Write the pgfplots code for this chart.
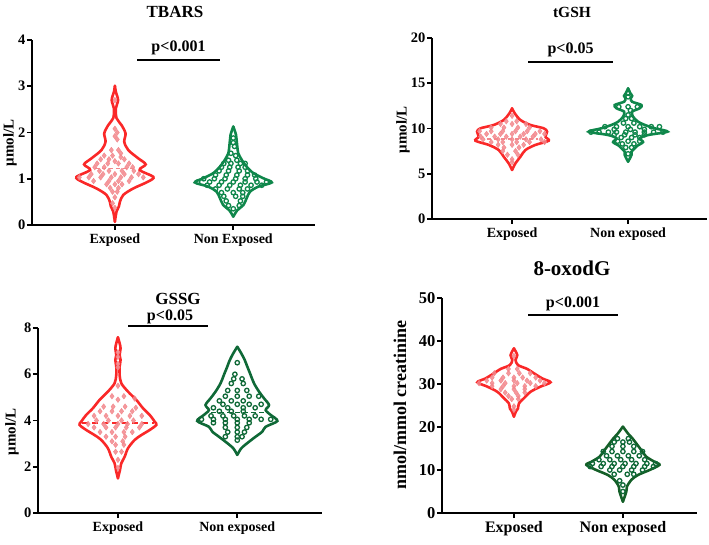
\documentclass[border=0pt]{standalone}
\usepackage{fontspec}
\setmainfont{Liberation Serif}
\usepackage{pgfplots}
\pgfplotsset{compat=1.18}
\usepackage{pgfplotstable}

\definecolor{vred}{RGB}{250,40,40}
\definecolor{vpink}{RGB}{242,135,140}
\definecolor{gA}{RGB}{15,135,75}
\definecolor{gB}{RGB}{15,105,55}
\definecolor{gC}{RGB}{20,95,40}

\pgfplotsset{
  vio/.style={
    scale only axis, clip=false,
    axis x line*=bottom, axis y line*=left,
    axis line style={line width=1.8pt},
    ymin=0,
    xtick={0,1},
    tick align=outside,
    major tick length=5pt,
    tick style={black, line width=1.8pt},
    /pgf/number format/assume math mode=true,
    yticklabel style={font=\bfseries\fontsize{14.5}{14.5}\selectfont, inner sep=1.5pt},
    xticklabel style={font=\bfseries\fontsize{14}{14}\selectfont},
  },
  vline/.style={smooth, line width=2.6pt, no marks, line cap=round},
  exppts/.style={only marks, mark=diamond*, mark size=2.8pt, mark options={fill=vpink, draw=vpink, fill opacity=0.85}},
  nonpts/.style={only marks, mark=o, mark size=2.2pt, mark options={line width=1.3pt}},
}

% violin outlines: value, half width
\pgfplotstableread{
y hw
3.01 0
2.88 0.008
2.70 0.027
2.52 0.008
2.31 0.014
2.16 0.056
1.98 0.09
1.80 0.079
1.62 0.113
1.44 0.198
1.31 0.26
1.19 0.209
1.04 0.325
0.94 0.282
0.79 0.155
0.65 0.071
0.50 0.042
0.40 0.034
0.29 0.014
0.07 0
}\tbE
\pgfplotstableread{
y hw
2.13 0
1.95 0.023
1.84 0.028
1.69 0.034
1.55 0.042
1.41 0.071
1.26 0.113
1.12 0.17
1.01 0.254
0.92 0.325
0.83 0.212
0.72 0.141
0.58 0.113
0.43 0.085
0.32 0.034
0.18 0
}\tbN
\pgfplotstableread{
y hw
12.23 0
11.68 0.023
10.94 0.072
10.39 0.158
10.02 0.273
9.65 0.302
9.09 0.287
8.65 0.316
8.18 0.2
7.62 0.115
6.88 0.072
6.15 0.029
5.41 0
}\gsE
\pgfplotstableread{
y hw
14.44 0
13.89 0.02
13.6 0.035
13.33 0.023
12.96 0.034
12.6 0.115
12.23 0.1
11.86 0.034
11.3 0.043
10.75 0.086
10.39 0.144
10.02 0.23
9.65 0.34
9.28 0.172
8.92 0.1
8.5 0.129
8.1 0.08
7.81 0.057
7.44 0.029
7.07 0.029
6.33 0
}\gsN
\pgfplotstableread{
y hw
7.6 0
7.34 0.014
7.12 0.022
6.83 0.014
6.62 0.022
6.33 0.014
5.97 0.014
5.61 0.028
5.25 0.084
4.89 0.154
4.53 0.21
4.24 0.266
3.95 0.308
3.81 0.322
3.59 0.266
3.37 0.196
3.16 0.14
2.80 0.084
2.43 0.056
2.15 0.028
1.86 0.017
1.50 0
}\ssE
\pgfplotstableread{
y hw
7.19 0
6.9 0.034
6.62 0.062
6.33 0.084
5.97 0.112
5.61 0.14
5.25 0.182
4.96 0.224
4.67 0.266
4.45 0.238
4.24 0.28
3.98 0.336
3.73 0.238
3.52 0.21
3.30 0.154
3.08 0.098
2.80 0.034
2.51 0
}\ssN
\pgfplotstableread{
y hw
38.3 0
36.7 0.031
35.6 0.015
34.4 0.037
33.5 0.122
32.5 0.183
31.3 0.26
30.4 0.336
29.4 0.245
28.2 0.153
26.7 0.092
25.5 0.046
24.3 0.037
23.6 0.018
22.4 0
}\oxE
\pgfplotstableread{
y hw
20.1 0
18.5 0.046
17.4 0.086
16.2 0.122
14.65 0.168
13.1 0.214
11.9 0.29
11.2 0.336
10.0 0.245
8.84 0.138
7.67 0.076
6.12 0.037
4.95 0.031
2.63 0
}\oxN

\begin{document}
\begin{tikzpicture}
\useasboundingbox (0,0) rectangle (709pt,544pt);

% ---------------- TBARS ----------------
\begin{axis}[vio, at={(32pt,319pt)}, anchor=south west, width=283pt, height=185pt,
  xmin=-0.70, xmax=1.69, ymax=4, ytick={0,1,2,3,4}, yticklabels={0,1,2,3,4},
  xticklabels={Exposed, Non Exposed}]
\addplot[exppts] coordinates {
(0,2.7)
(0,2.08) (0.02,2.0) (0,1.92) (0.02,1.85)
(-0.03,1.62) (0.03,1.62) (0.05,1.55)
(-0.09,1.5) (-0.02,1.5) (0.05,1.47)
(-0.12,1.42) (-0.05,1.42) (0.0,1.38) (0.08,1.42)
(-0.15,1.33) (-0.06,1.33) (0.03,1.33) (0.12,1.33)
(-0.17,1.25) (-0.09,1.25) (0.1,1.25) (0.15,1.25)
(-0.13,1.17) (-0.05,1.17) (0.06,1.17) (0.16,1.17)
(-0.2,1.1) (-0.1,1.1) (0.0,1.1) (0.08,1.1) (0.2,1.1)
(-0.3,1.03) (-0.22,1.03) (-0.12,1.03) (-0.03,1.03) (0.05,1.03) (0.14,1.03) (0.24,1.03)
(-0.18,0.95) (-0.05,0.95) (0.03,0.95) (0.12,0.95)
(-0.07,0.88) (0.0,0.88) (0.06,0.88)
(-0.04,0.8) (0.03,0.8)
(-0.02,0.72) (0.02,0.72)
(0.0,0.6) (-0.02,0.47) (0.0,0.37)
};
\addplot[vpink, line width=1.5pt, dash pattern=on 4pt off 3pt] coordinates {(-0.17,1.22) (0.17,1.22)};
\addplot[vline, draw=vred] table[x expr=\thisrow{hw}, y=y] {\tbE};
\addplot[vline, draw=vred] table[x expr=-\thisrow{hw}, y=y] {\tbE};
\addplot[nonpts, gA] coordinates {
(1,1.88) (1,1.78) (1.01,1.7)
(0.98,1.55) (1.02,1.5)
(0.96,1.4) (1.03,1.4)
(0.92,1.33) (0.98,1.33) (1.06,1.33) (1.1,1.33)
(0.9,1.25) (0.97,1.25) (1.04,1.25) (1.1,1.25)
(0.88,1.17) (0.96,1.17) (1.05,1.17) (1.12,1.17)
(0.85,1.08) (0.94,1.08) (1.03,1.08) (1.12,1.08) (1.18,1.08)
(0.75,1.0) (0.84,1.0) (0.93,1.0) (1.02,1.0) (1.1,1.0) (1.19,1.0)
(0.7,0.93) (0.8,0.93) (0.9,0.93) (1.0,0.93) (1.1,0.93) (1.2,0.93) (1.28,0.93)
(0.78,0.86) (0.88,0.86) (0.97,0.86) (1.06,0.86) (1.15,0.86) (1.24,0.86)
(0.85,0.78) (0.95,0.78) (1.05,0.78) (1.12,0.78)
(0.9,0.7) (1.0,0.7) (1.08,0.7)
(0.92,0.62) (1.02,0.62) (1.08,0.62)
(0.94,0.52) (1.06,0.52)
(0.96,0.42) (1.05,0.42)
(1.0,0.35)
};
\addplot[vline, draw=gA] table[x expr=1+\thisrow{hw}, y=y] {\tbN};
\addplot[vline, draw=gA] table[x expr=1-\thisrow{hw}, y=y] {\tbN};
\end{axis}

% ---------------- tGSH ----------------
\begin{axis}[vio, at={(432pt,325pt)}, anchor=south west, width=275pt, height=181pt,
  xmin=-0.69, xmax=1.68, ymax=20, ytick={0,5,10,15,20}, yticklabels={0,5,10,15,20},
  xticklabels={Exposed, Non exposed}]
\addplot[exppts] coordinates {
(0,11.4)
(-0.05,10.8) (0.04,10.8)
(-0.1,10.5) (0,10.5) (0.12,10.5)
(-0.18,10.1) (-0.07,10.1) (0.05,10.1) (0.15,10.1)
(-0.28,9.7) (-0.18,9.7) (-0.08,9.7) (0.03,9.7) (0.13,9.7) (0.24,9.7)
(-0.22,9.4) (-0.1,9.4) (0,9.4) (0.1,9.4) (0.2,9.4) (0.28,9.4)
(-0.27,9.1) (-0.15,9.1) (-0.05,9.1) (0.07,9.1) (0.18,9.1)
(-0.25,8.8) (-0.12,8.8) (0,8.8) (0.12,8.8) (0.25,8.8)
(-0.18,8.5) (-0.08,8.5) (0.04,8.5) (0.15,8.5) (0.28,8.5)
(-0.12,8.2) (0,8.2) (0.1,8.2)
(-0.07,7.9) (0.06,7.9)
(-0.08,7.5) (0.03,7.5)
(-0.04,7.1) (0.05,7.1)
(0,6.6) (0,6.3)
};
\addplot[vpink, line width=1.5pt, dash pattern=on 4pt off 3pt] coordinates {(-0.22,8.85) (0.22,8.85)};
\addplot[vline, draw=vred] table[x expr=\thisrow{hw}, y=y] {\gsE};
\addplot[vline, draw=vred] table[x expr=-\thisrow{hw}, y=y] {\gsE};
\addplot[nonpts, gA] coordinates {
(1,13.9) (1,13.5)
(0.92,12.4) (1,12.4) (1.08,12.4)
(1.02,12.0)
(1,11.5) (0.98,11.1) (1.03,11.1)
(0.96,10.6) (1.05,10.6)
(0.8,10.2) (0.9,10.2) (1,10.2) (1.1,10.2) (1.2,10.2) (1.27,10.2)
(0.88,9.9) (1.02,9.9) (1.14,9.9)
(0.68,9.6) (0.75,9.6) (0.83,9.6) (0.9,9.6) (0.98,9.6) (1.06,9.6) (1.14,9.6) (1.22,9.6) (1.3,9.6)
(0.88,9.3) (0.97,9.3) (1.06,9.3) (1.14,9.3)
(0.94,9.0) (1.03,9.0) (1.1,9.0)
(0.91,8.6) (1,8.6) (1.1,8.6)
(0.95,8.3) (1.05,8.3)
(0.98,7.9) (1.03,7.9)
(1,7.2)
};
\addplot[vline, draw=gA] table[x expr=1+\thisrow{hw}, y=y] {\gsN};
\addplot[vline, draw=gA] table[x expr=1-\thisrow{hw}, y=y] {\gsN};
\end{axis}

% ---------------- GSSG ----------------
\begin{axis}[vio, at={(38pt,31pt)}, anchor=south west, width=284pt, height=185pt,
  xmin=-0.67, xmax=1.71, ymax=8, ytick={0,2,4,6,8}, yticklabels={0,2,4,6,8},
  xticklabels={Exposed, Non exposed}]
\addplot[exppts] coordinates {
(0,6.95) (0,6.75) (0,6.45) (0,6.3)
(0,5.5)
(-0.05,5.05) (0.05,5.05)
(0,4.9) (0.14,4.95)
(-0.12,4.6) (-0.04,4.6) (0.06,4.6) (0.15,4.55)
(-0.15,4.4) (-0.05,4.4) (0.03,4.4) (0.12,4.4)
(-0.2,4.2) (-0.1,4.2) (0,4.2) (0.1,4.2) (0.2,4.2)
(-0.18,4.0) (-0.08,4.0) (0.03,4.0) (0.13,4.0)
(-0.25,3.85) (-0.12,3.85) (0,3.85) (0.08,3.85) (0.2,3.85)
(-0.2,3.7) (-0.1,3.7) (-0.02,3.7) (0.07,3.7) (0.18,3.7)
(-0.15,3.5) (-0.05,3.5) (0.05,3.5) (0.12,3.5)
(-0.1,3.3) (-0.02,3.3) (0.06,3.3)
(-0.05,3.1) (0.04,3.1)
(-0.02,2.95) (0.05,2.95)
(-0.02,2.65) (0.03,2.65)
(0,2.3) (0,1.95)
};
\addplot[vred, line width=2.2pt, dash pattern=on 6pt off 4pt] coordinates {(-0.3,3.9) (0.3,3.9)};
\addplot[vline, draw=vred] table[x expr=\thisrow{hw}, y=y] {\ssE};
\addplot[vline, draw=vred] table[x expr=-\thisrow{hw}, y=y] {\ssE};
\addplot[nonpts, gB] coordinates {
(1,6.5)
(0.98,6.0) (0.97,5.8) (1.04,5.8)
(0.95,5.6) (1.05,5.6)
(0.92,5.3) (1,5.3) (1.08,5.3)
(0.9,5.05) (1,5.05) (1.1,5.05) (1.18,5.05)
(0.85,4.85) (0.95,4.85) (1.05,4.85)
(0.88,4.7) (1,4.7) (1.1,4.7) (1.2,4.7)
(0.8,4.55) (0.92,4.55) (1.05,4.55) (1.15,4.55)
(0.85,4.4) (0.95,4.4) (1.05,4.4)
(0.78,4.2) (0.88,4.2) (0.97,4.2) (1.06,4.2) (1.15,4.2)
(0.7,4.05) (0.8,4.05) (0.9,4.05) (1,4.05) (1.1,4.05) (1.2,4.05) (1.28,4.05)
(0.8,3.9) (0.9,3.9) (1,3.9) (1.1,3.9)
(0.9,3.7) (1,3.7) (1.08,3.7)
(0.92,3.5) (1,3.5) (1.06,3.5)
(0.9,3.3) (1,3.3) (1.04,3.3)
(1,3.15)
};
\addplot[gB, line width=1.5pt, dash pattern=on 5pt off 3pt] coordinates {(0.78,4.35) (1.22,4.35)};
\addplot[vline, draw=gB] table[x expr=1+\thisrow{hw}, y=y] {\ssN};
\addplot[vline, draw=gB] table[x expr=1-\thisrow{hw}, y=y] {\ssN};
\end{axis}

% ---------------- 8-oxodG ----------------
\begin{axis}[vio, at={(442pt,31pt)}, anchor=south west, width=255pt, height=215pt,
  xmin=-0.66, xmax=1.68, ymax=50, ytick={0,10,20,30,40,50}, yticklabels={0,10,20,30,40,50},
  yticklabel style={font=\bfseries\fontsize{16.5}{16.5}\selectfont},
  xticklabel style={font=\bfseries\fontsize{16}{16}\selectfont},
  xticklabels={Exposed, Non exposed}]
\addplot[exppts] coordinates {
(0,36.5)
(-0.05,33.5) (0.03,33.5)
(-0.18,32.5) (-0.05,32.5) (0.05,32.5) (0.15,32.5)
(-0.2,31.5) (-0.1,31.5) (0,31.5) (0.08,31.5) (0.2,31.5)
(-0.25,30.8) (-0.12,30.8) (0,30.8) (0.12,30.8) (0.24,30.8)
(-0.32,30.2) (-0.2,30.2) (-0.08,30.2) (0.03,30.2) (0.15,30.2) (0.28,30.2)
(-0.2,29.5) (-0.1,29.5) (0,29.5) (0.1,29.5) (0.2,29.5)
(-0.12,28.8) (0,28.8) (0.1,28.8)
(-0.08,28) (0.02,28) (0.1,28)
(-0.05,27.2) (0.04,27.2)
(-0.02,26.5) (0.04,26.5)
(0,24.8) (0,24)
};
\addplot[vline, draw=vred] table[x expr=\thisrow{hw}, y=y] {\oxE};
\addplot[vline, draw=vred] table[x expr=-\thisrow{hw}, y=y] {\oxE};
\addplot[nonpts, gB] coordinates {
(0.95,17.3) (1.05,17.3)
(0.92,16.5) (1,16.5) (1.06,16.5)
(0.9,15.5) (1,15.5) (1.1,15.5)
(0.82,14.3) (0.9,14.3) (1,14.3) (1.1,14.3) (1.18,14.3)
(0.85,13.3) (0.95,13.3) (1.05,13.3) (1.15,13.3)
(0.78,12.4) (0.88,12.4) (0.98,12.4) (1.08,12.4) (1.2,12.4)
(0.72,11.5) (0.82,11.5) (0.92,11.5) (1.02,11.5) (1.12,11.5) (1.22,11.5) (1.3,11.5)
(0.7,10.8) (0.8,10.8) (0.9,10.8) (1,10.8) (1.1,10.8) (1.2,10.8) (1.28,10.8)
(0.88,10) (0.97,10) (1.08,10) (1.18,10)
(0.92,9) (1.04,9) (1.1,9)
(0.97,7.5) (1,6.5) (1,5)
};
\addplot[vline, draw=gC] table[x expr=1+\thisrow{hw}, y=y] {\oxN};
\addplot[vline, draw=gC] table[x expr=1-\thisrow{hw}, y=y] {\oxN};
\end{axis}

% ---------------- titles, labels, significance bars ----------------
\node[font=\bfseries\fontsize{17}{17}\selectfont] at (175pt,532pt) {TBARS};
\node[font=\bfseries\fontsize{15.5}{16}\selectfont] at (572pt,532pt) {tGSH};
\node[font=\bfseries\fontsize{17}{17}\selectfont] at (178pt,245pt) {GSSG};
\node[font=\bfseries\fontsize{21}{21}\selectfont] at (572pt,276pt) {8-oxodG};

\node[font=\bfseries\fontsize{16}{16}\selectfont] at (178.5pt,496pt) {p<0.001};
\draw[line width=1.5pt] (137pt,484pt) -- (220pt,484pt);
\node[font=\bfseries\fontsize{16}{16}\selectfont] at (570.5pt,494pt) {p<0.05};
\draw[line width=1.5pt] (528pt,482pt) -- (613pt,482pt);
\node[font=\bfseries\fontsize{16}{16}\selectfont] at (170pt,227pt) {p<0.05};
\draw[line width=1.5pt] (128pt,218pt) -- (208pt,218pt);
\node[font=\bfseries\fontsize{16}{16}\selectfont] at (573pt,240pt) {p<0.001};
\draw[line width=1.5pt] (528pt,229pt) -- (618pt,229pt);

\node[rotate=90, font=\bfseries\fontsize{15}{15}\selectfont] at (10pt,401pt) {μmol/L};
\node[rotate=90, font=\bfseries\fontsize{15}{15}\selectfont] at (403pt,414pt) {μmol/L};
\node[rotate=90, font=\bfseries\fontsize{15}{15}\selectfont] at (12pt,112pt) {μmol/L};
\node[rotate=90, font=\bfseries\fontsize{18}{18}\selectfont] at (400pt,139pt) {nmol/mmol creatinine};
\end{tikzpicture}
\end{document}
